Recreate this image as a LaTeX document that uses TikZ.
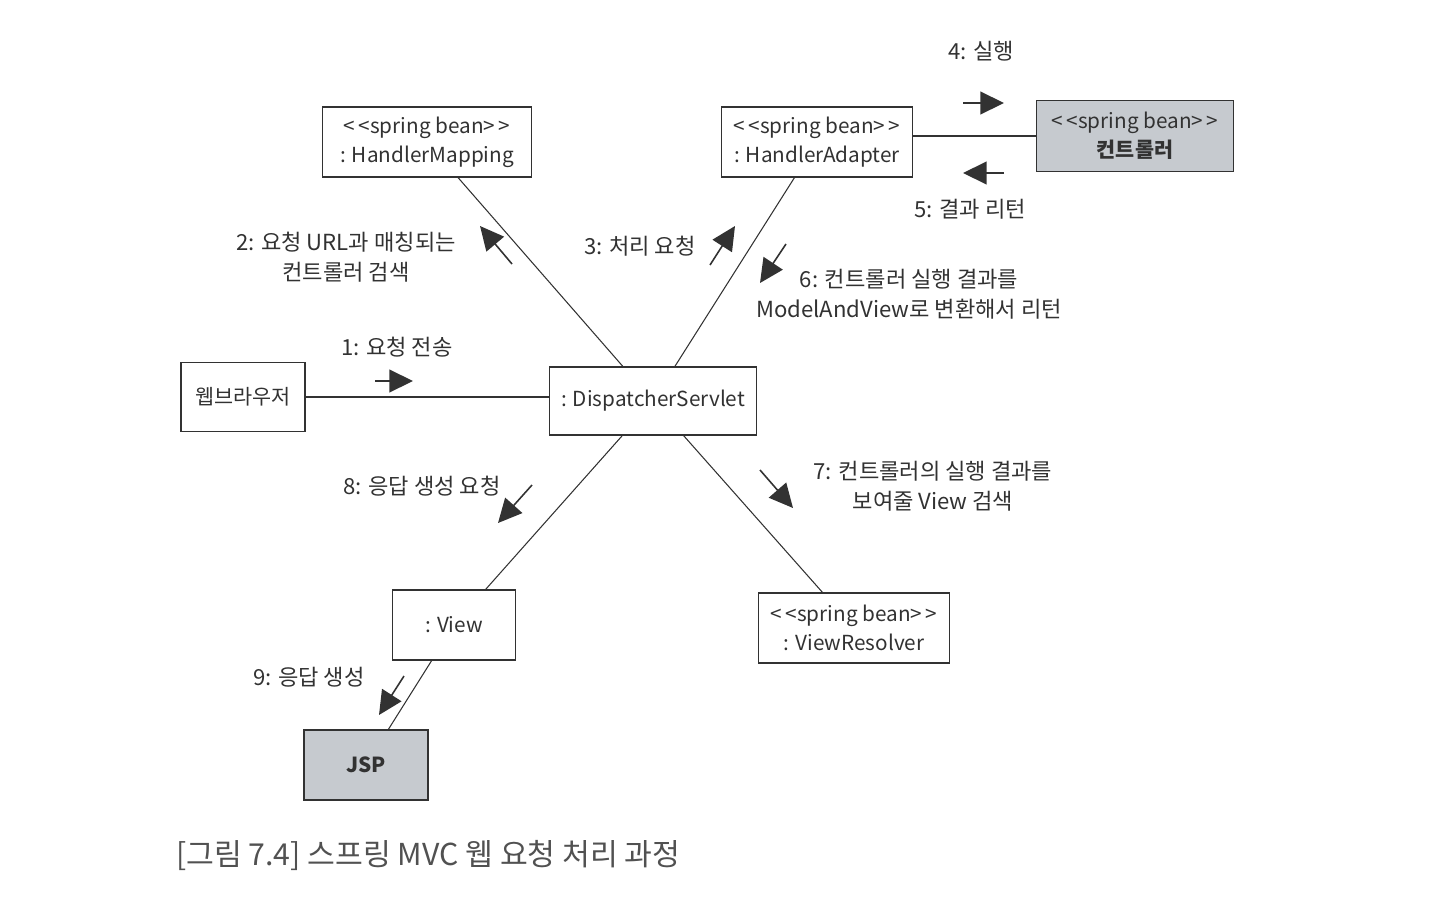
\documentclass[tikz,border=0pt]{standalone}
\usepackage{fontspec}
\setmainfont{Noto Sans CJK KR}
\usetikzlibrary{arrows.meta}

\definecolor{beangray}{RGB}{198,202,207}
\definecolor{inkgray}{RGB}{50,50,50}

\begin{document}
\begin{tikzpicture}[x=0.02cm, y=-0.02cm, >={Triangle[length=13.5pt,width=13pt]},
  obj/.style={draw=inkgray, line width=0.8pt, align=center, text=inkgray, inner sep=0pt,
    font=\fontsize{11.8}{16.4}\selectfont},
  bean/.style={obj, fill=beangray},
  link/.style={draw=inkgray, line width=0.6pt},
  msg/.style={->, line width=0.9pt, draw=inkgray},
  lbl/.style={align=center, text=inkgray, font=\fontsize{12.6}{16.8}\selectfont}]
    \useasboundingbox (0,0) rectangle (1440,903);

    % objetos
    \node[obj, minimum width=4.18cm, minimum height=1.4cm] (hm) at (427,142)
        {<\,<spring bean>\,>\\: HandlerMapping};
    \node[obj, minimum width=3.82cm, minimum height=1.4cm] (ha) at (817,142)
        {<\,<spring bean>\,>\\: HandlerAdapter};
    \node[bean, minimum width=3.94cm, minimum height=1.42cm] (ctrl) at (1135,136)
        {<\,<spring bean>\,>\\\textbf{컨트롤러}};
    \node[obj, minimum width=2.48cm, minimum height=1.38cm] (browser) at (243,397) {웹브라우저};
    \node[obj, minimum width=4.14cm, minimum height=1.36cm] (ds) at (653,401) {: DispatcherServlet};
    \node[obj, minimum width=2.46cm, minimum height=1.4cm] (view) at (454,625) {: View};
    \node[obj, minimum width=3.82cm, minimum height=1.4cm] (vr) at (854,628)
        {<\,<spring bean>\,>\\: ViewResolver};
    \node[bean, minimum width=2.48cm, minimum height=1.4cm] (jsp) at (366,765) {\textbf{JSP}};

    % ligacoes
    \draw[link] (browser) -- (browser-|ds.west);
    \draw[link] (hm) -- (ds);
    \draw[link] (ha) -- (ds);
    \draw[link] (ha.east|-ctrl.west) -- (ctrl.west);
    \draw[link] (ds) -- (view);
    \draw[link] (ds) -- (vr);
    \draw[link] (view) -- (jsp);

    % mensagens
    \draw[msg] (375,381) -- (413,381);
    \draw[msg] (512,264) -- (480,226);
    \draw[msg] (710,265) -- (735,226);
    \draw[msg] (963,103) -- (1004,103);
    \draw[msg] (1004,173) -- (963,173);
    \draw[msg] (786,244) -- (760,283);
    \draw[msg] (760,470) -- (793,508);
    \draw[msg] (532,485) -- (498,523);
    \draw[msg] (404,676) -- (379,715);

    \node[lbl] (m1) at (397,347) {1: 요청 전송};
    \node[lbl] (m2) at (346,257) {2: 요청 URL과 매칭되는\\컨트롤러 검색};
    \node[lbl] (m3) at (640,246) {3: 처리 요청};
    \node[lbl] (m4) at (981,51) {4: 실행};
    \node[lbl] (m5) at (970,209) {5: 결과 리턴};
    \node[lbl] (m6) at (909,294) {6: 컨트롤러 실행 결과를\\ModelAndView로 변환해서 리턴};
    \node[lbl] (m7) at (933,486) {7: 컨트롤러의 실행 결과를\\보여줄 View 검색};
    \node[lbl] (m8) at (422,486) {8: 응답 생성 요청};
    \node[lbl] (m9) at (309,677) {9: 응답 생성};

    \node[anchor=west, text=inkgray!85, font=\fontsize{17.2}{20}\selectfont] (cap) at (170,856)
        {[그림 7.4] 스프링 MVC 웹 요청 처리 과정};
\end{tikzpicture}
\end{document}
